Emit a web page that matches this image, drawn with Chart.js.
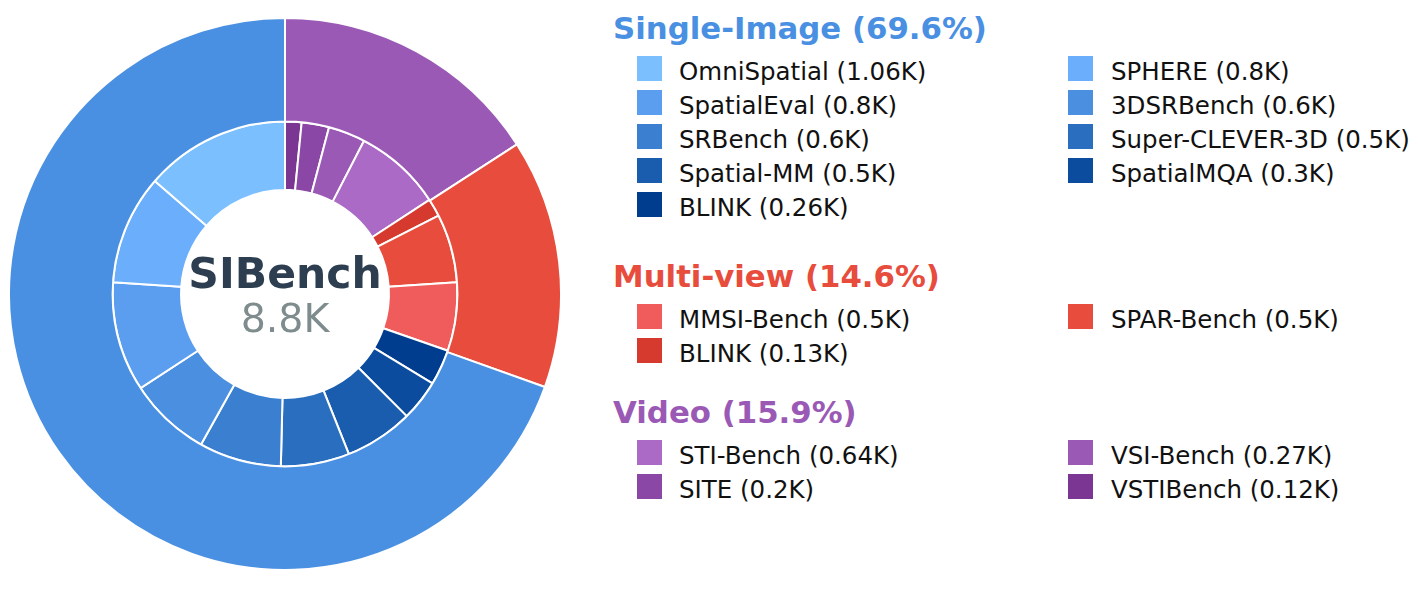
<!DOCTYPE html>
<html>
<head>
<meta charset="utf-8">
<script src="https://cdn.jsdelivr.net/npm/chart.js@4"></script>
<style>
  body { margin: 0; background: #fff; font-family: 'DejaVu Sans', sans-serif; }
  #wrap { position: absolute; left: 7px; top: 16px; width: 556px; height: 556px; }
  .head { position: absolute; left: 613px; font-weight: bold; font-size: 30.8px; line-height: 35px; white-space: nowrap; }
  .sq { position: absolute; width: 25px; height: 25px; }
  .lbl { position: absolute; font-size: 24.5px; line-height: 28px; color: #111; white-space: nowrap; }
</style>
</head>
<body>
<div id="wrap"><canvas id="sunburst"></canvas></div>
<div id="legend"></div>
<script>
// outer ring: categories with their share (%)
const groups = ['Single-Image', 'Multi-view', 'Video'];
const groupShares = [69.6, 14.6, 15.9];
const groupColors = ['#4a90e2', '#e74c3c', '#9b59b6'];

// inner ring: benchmarks per category (K samples), legend order
const singleNames = ['OmniSpatial', 'SPHERE', 'SpatialEval', '3DSRBench', 'SRBench', 'Super-CLEVER-3D', 'Spatial-MM', 'SpatialMQA', 'BLINK'];
const singleValues = [1.06, 0.8, 0.8, 0.6, 0.6, 0.5, 0.5, 0.3, 0.26];
const singleColors = ['#7cbfff', '#6aaefc', '#5b9ef0', '#4a8fe0', '#3a7fd0', '#2a6ebf', '#1a5cad', '#0c4c9e', '#003d8f'];

const multiNames = ['MMSI-Bench', 'SPAR-Bench', 'BLINK'];
const multiValues = [0.5, 0.5, 0.13];
const multiColors = ['#f05b5b', '#e74c3c', '#d63a2e'];

const videoNames = ['STI-Bench', 'VSI-Bench', 'SITE', 'VSTIBench'];
const videoValues = [0.64, 0.27, 0.2, 0.12];
const videoColors = ['#aa6ac6', '#9b59b6', '#8b47a6', '#7b3593'];

const centerTitle = 'SIBench';
const centerTotal = '8.8K';

// drawing order clockwise from 12 o'clock: Video, Multi-view, Single-Image (smallest first)
const outerData = [groupShares[2], groupShares[1], groupShares[0]];
const outerColors = [groupColors[2], groupColors[1], groupColors[0]];
const innerData = [...videoValues].reverse().concat([...multiValues].reverse(), [...singleValues].reverse());
const innerColors = [...videoColors].reverse().concat([...multiColors].reverse(), [...singleColors].reverse());

const centerText = {
  id: 'centerText',
  afterDraw(chart) {
    const a = chart.chartArea;
    const cx = (a.left + a.right) / 2, cy = (a.top + a.bottom) / 2;
    const ctx = chart.ctx;
    ctx.save();
    ctx.textAlign = 'center';
    ctx.textBaseline = 'alphabetic';
    ctx.fillStyle = '#2c3e50';
    ctx.font = 'bold 42.5px "DejaVu Sans"';
    ctx.fillText(centerTitle, cx, cy - 6);
    ctx.fillStyle = '#7f8c8d';
    ctx.font = '39.5px "DejaVu Sans"';
    ctx.fillText(centerTotal, cx, cy + 38);
    ctx.restore();
  }
};

new Chart(document.getElementById('sunburst'), {
  type: 'doughnut',
  data: {
    datasets: [
      { data: outerData, backgroundColor: outerColors, borderColor: '#fff', borderWidth: 2, weight: 103 },
      { data: innerData, backgroundColor: innerColors, borderColor: '#fff', borderWidth: 2, weight: 68 }
    ]
  },
  options: {
    responsive: true,
    maintainAspectRatio: false,
    animation: false,
    cutout: 104,
    layout: { padding: 1 },
    plugins: { legend: { display: false }, tooltip: { enabled: false } }
  },
  plugins: [centerText]
});

// legend on the right
const legend = document.getElementById('legend');
const legendGroups = [
  { title: groups[0], share: groupShares[0], color: groupColors[0], names: singleNames, values: singleValues, colors: singleColors, top: 11 },
  { title: groups[1], share: groupShares[1], color: groupColors[1], names: multiNames, values: multiValues, colors: multiColors, top: 259 },
  { title: groups[2], share: groupShares[2], color: groupColors[2], names: videoNames, values: videoValues, colors: videoColors, top: 395 }
];
const colSq = [637, 1068], colTxt = [679, 1111];
legendGroups.forEach(g => {
  const h = document.createElement('div');
  h.className = 'head';
  h.style.top = g.top + 'px';
  h.style.color = g.color;
  h.textContent = g.title + ' (' + g.share + '%)';
  legend.appendChild(h);
  g.names.forEach((n, i) => {
    const col = i % 2, row = Math.floor(i / 2);
    const y = g.top + 45 + row * 34;
    const s = document.createElement('div');
    s.className = 'sq';
    s.style.left = colSq[col] + 'px';
    s.style.top = y + 'px';
    s.style.background = g.colors[i];
    legend.appendChild(s);
    const t = document.createElement('div');
    t.className = 'lbl';
    t.style.left = colTxt[col] + 'px';
    t.style.top = (y + 2) + 'px';
    t.textContent = n + ' (' + g.values[i] + 'K)';
    legend.appendChild(t);
  });
});
</script>
</body>
</html>
